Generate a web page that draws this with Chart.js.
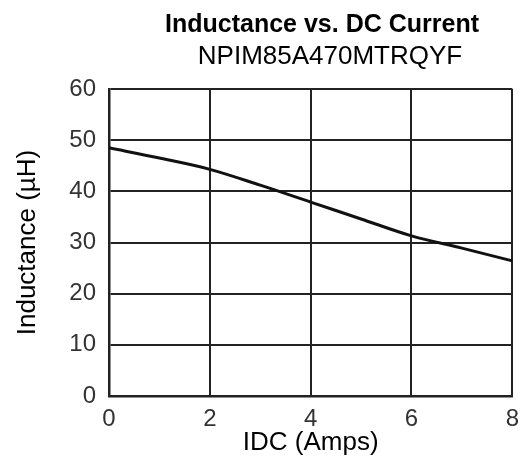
<!DOCTYPE html>
<html>
<head>
<meta charset="utf-8">
<script src="https://cdn.jsdelivr.net/npm/chart.js@4.4.1/dist/chart.umd.min.js"></script>
<style>
  html, body { margin: 0; padding: 0; background: #fff; }
  #wrap { width: 528px; height: 460px; position: relative; }
</style>
</head>
<body>
<div id="wrap"><canvas id="chart"></canvas></div>
<script>

// ---------------- DATA ----------------

const chartTitle = "Inductance vs. DC Current";
const partNumber = "NPIM85A470MTRQYF";

const currentAmps = [0, 1, 2, 3, 4, 5, 6, 7, 8];
const inductance = [48.5, 46.5, 44.3, 41.2, 37.9, 34.6, 31.3, 28.9, 26.4];

const xTicks = [0, 2, 4, 6, 8];
const yTicks = [0, 10, 20, 30, 40, 50, 60];

const points = currentAmps.map((x, i) => ({ x, y: inductance[i] }));

const FONT = "'Liberation Sans', Arial, Helvetica, sans-serif";
const GRID = "#222";
const TICK_TEXT = "#333";


// ---------------- TITLE LINES ----------------

const headerText = {
    id: "headerText",
    afterDraw(chart){
        const ctx = chart.ctx;
        ctx.save();
        ctx.fillStyle = "#000";
        ctx.textAlign = "center";
        ctx.textBaseline = "alphabetic";
        ctx.font = `bold 25px ${FONT}`;
        ctx.fillText(chartTitle, 322, 32);
        ctx.font = `26px ${FONT}`;
        ctx.fillText(partNumber, 330, 64);
        ctx.restore();
    }
};


// ---------------- CHART ----------------

new Chart(document.getElementById("chart"), {

    type: "line",

    data: {
        datasets: [{
            label: "Inductance",
            data: points,
            borderColor: "#111",
            borderWidth: 3,
            pointRadius: 0,
            fill: false,
            cubicInterpolationMode: "monotone"
        }]
    },

    options: {
        responsive: true,
        maintainAspectRatio: false,
        animation: false,
        layout: { padding: { top: 89, right: 9, bottom: 0, left: 0 } },
        plugins: {
            legend: { display: false },
            tooltip: { enabled: false }
        },
        scales: {
            x: {
                type: "linear",
                min: 0,
                max: 8,
                afterFit: s => { s.height = 64; },
                afterBuildTicks: s => { s.ticks = xTicks.map(v => ({ value: v })); },
                grid: { color: GRID, lineWidth: 2, drawTicks: false },
                border: { color: GRID, width: 2.5 },
                ticks: {
                    padding: 9,
                    color: TICK_TEXT,
                    font: { family: FONT, size: 24 }
                },
                title: {
                    display: true,
                    text: "IDC (Amps)",
                    color: "#000",
                    font: { family: FONT, size: 26 },
                    padding: { top: 0, bottom: 2 }
                }
            },
            y: {
                min: 0,
                max: 60,
                afterFit: s => { s.width = 109; },
                afterBuildTicks: s => { s.ticks = yTicks.map(v => ({ value: v })); },
                grid: { color: GRID, lineWidth: 2, drawTicks: false },
                border: { color: GRID, width: 2.5 },
                ticks: {
                    padding: 13,
                    color: TICK_TEXT,
                    font: { family: FONT, size: 24 }
                },
                title: {
                    display: true,
                    text: "Inductance (\u00b5H)",
                    color: "#000",
                    font: { family: FONT, size: 26 },
                    padding: { top: 12, bottom: 0 }
                }
            }
        }
    },

    plugins: [headerText]

});

</script>
</body>
</html>
